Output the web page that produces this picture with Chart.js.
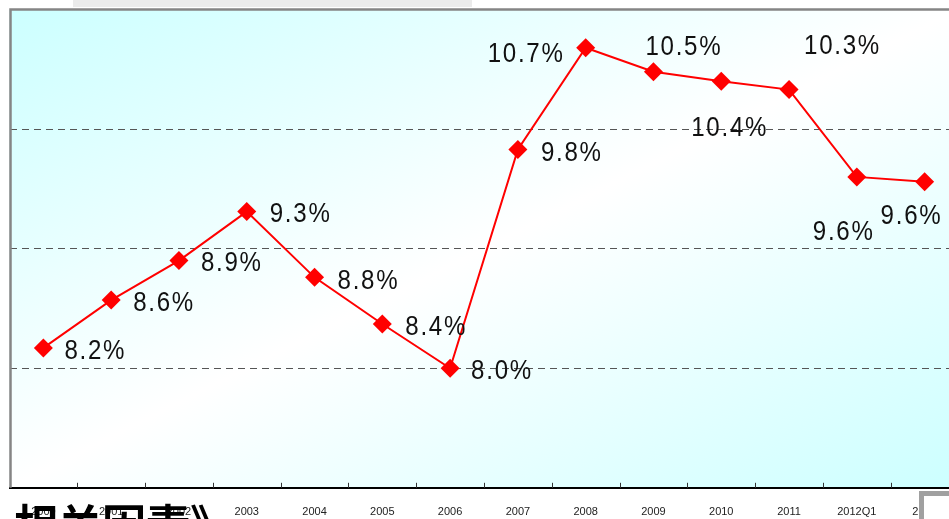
<!DOCTYPE html>
<html>
<head>
<meta charset="utf-8">
<script src="https://cdn.jsdelivr.net/npm/chart.js@4.4.1/dist/chart.umd.min.js"></script>
<style>
  html, body { margin: 0; padding: 0; background: #fff; overflow: hidden; width: 949px; height: 519px; }
  #wrap { position: relative; width: 968px; height: 519px; }
</style>
</head>
<body>
<div id="wrap"><canvas id="chart" width="968" height="519"></canvas></div>
<script>
const years = ["2000", "2001", "2002", "2003", "2004", "2005", "2006", "2007", "2008", "2009", "2010", "2011", "2012Q1", "2012"];
const growth = [8.17, 8.57, 8.90, 9.31, 8.76, 8.37, 8.00, 9.83, 10.68, 10.48, 10.40, 10.33, 9.60, 9.56];
const gridValues = [8, 9, 10];
// label placement relative to each point (left edge, vertical middle)
const labelOffsets = [
  [21, 3], [22, 3], [22, 3], [23, 3], [23, 4], [23, 3], [21, 3],
  [23, 4], [-98, 7], [-8, -24], [-30, 47], [15, -43], [-44, 55], [-44, 35],
];
const footText = "相关因素》";

const backdrop = {
  id: "backdrop",
  beforeDraw(chart) {
    const { ctx, chartArea: a } = chart;
    const w = a.right - a.left, h = a.bottom - a.top;
    const cx = a.left + w / 2, cy = a.top + h / 2;
    const k = (w * h) / (w * w + h * h);
    const g = ctx.createLinearGradient(cx - k * h, cy - k * w, cx + k * h, cy + k * w);
    g.addColorStop(0, "#ccffff");
    g.addColorStop(0.5, "#ffffff");
    g.addColorStop(1, "#ccffff");
    ctx.save();
    ctx.fillStyle = g;
    ctx.fillRect(a.left, a.top, w, h);
    // faint dotted strip above the frame
    ctx.fillStyle = "#ebebeb";
    ctx.fillRect(73, 0, 399, 7);
    ctx.restore();
  },
  afterDraw(chart) {
    const { ctx, chartArea: a } = chart;
    const x = chart.scales.x;
    ctx.save();
    // frame top and left
    ctx.strokeStyle = "#858585";
    ctx.lineWidth = 2.5;
    ctx.beginPath();
    ctx.moveTo(a.left + 1, a.bottom);
    ctx.lineTo(a.left + 1, a.top);
    ctx.lineTo(a.right + 5, a.top);
    ctx.stroke();
    // inner tick marks between categories
    ctx.strokeStyle = "#333";
    ctx.lineWidth = 1;
    const n = years.length;
    for (let i = 1; i < n; i++) {
      const px = Math.round(x.left + (i * (x.right - x.left)) / n) + 0.5;
      ctx.beginPath();
      ctx.moveTo(px, a.bottom - 5);
      ctx.lineTo(px, a.bottom);
      ctx.stroke();
    }
    // cut-off caption at the bottom
    ctx.fillStyle = "#000";
    ctx.font = 'bold 44px "Noto Sans CJK SC"';
    ctx.textBaseline = "alphabetic";
    ctx.textAlign = "left";
    ctx.fillText(footText, 14, 542);
    // grey box in the corner
    ctx.fillStyle = "#fff";
    ctx.fillRect(919, 491, 50, 40);
    ctx.strokeStyle = "#a0a0a0";
    ctx.lineWidth = 5;
    ctx.strokeRect(921.5, 493.5, 50, 40);
    ctx.restore();
  },
};

const pointLabels = {
  id: "pointLabels",
  afterDatasetsDraw(chart) {
    const { ctx } = chart;
    const meta = chart.getDatasetMeta(0);
    ctx.save();
    ctx.fillStyle = "#111";
    ctx.font = '28px "Liberation Sans"';
    ctx.textBaseline = "middle";
    ctx.textAlign = "left";
    ctx.letterSpacing = "2px";
    meta.data.forEach((el, i) => {
      const [dx, dy] = labelOffsets[i];
      ctx.save();
      ctx.translate(el.x + dx, el.y + dy);
      ctx.scale(0.86, 1);
      ctx.fillText(growth[i].toFixed(1) + "%", 0, 0);
      ctx.restore();
    });
    ctx.restore();
  },
};

new Chart(document.getElementById("chart"), {
  type: "line",
  data: {
    labels: years,
    datasets: [{
      data: growth,
      borderColor: "#ff0000",
      borderWidth: 2,
      tension: 0,
      pointStyle: "rectRot",
      pointRadius: 9.5,
      pointBackgroundColor: "#ff0000",
      pointBorderWidth: 0,
      clip: false,
    }],
  },
  options: {
    responsive: false,
    animation: false,
    events: [],
    layout: { padding: { left: 7, top: 9, right: 0, bottom: 0 } },
    plugins: { legend: { display: false }, tooltip: { enabled: false } },
    scales: {
      x: {
        offset: true,
        grid: {
          display: true, drawOnChartArea: false, drawTicks: true,
          tickLength: 18, tickColor: "rgba(0,0,0,0)", offset: true,
        },
        border: { display: true, color: "#000", width: 2 },
        ticks: { color: "#222", padding: 0, maxRotation: 0, autoSkip: false, font: { family: "Liberation Sans", size: 11 } },
      },
      y: {
        min: 7,
        max: 11,
        ticks: { display: false, stepSize: 1 },
        grid: {
          drawTicks: false,
          lineWidth: 1,
          color: (c) => (gridValues.includes(c.tick && c.tick.value) ? "#555" : "rgba(0,0,0,0)"),
        },
        border: { display: false, dash: [7, 5] },
      },
    },
  },
  plugins: [backdrop, pointLabels],
});
</script>
</body>
</html>
